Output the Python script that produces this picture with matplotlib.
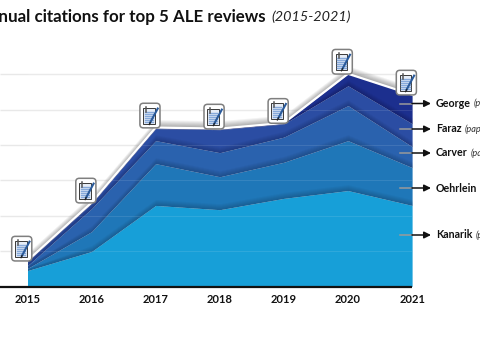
import numpy as np
import matplotlib
matplotlib.use('Agg')
import matplotlib.pyplot as plt
from matplotlib.patches import FancyBboxPatch, Rectangle
from matplotlib.transforms import IdentityTransform

years = [2015, 2016, 2017, 2018, 2019, 2020, 2021]
kanarik = [45, 99, 229, 217, 249, 271, 229]
oehrlein = [6, 56, 118, 93, 102, 141, 107]
carver = [8, 65, 65, 68, 71, 99, 59]
faraz = [11, 14, 34, 65, 37, 56, 65]
george = [3, 3, 3, 3, 3, 34, 82]

names = ['Kanarik', 'Oehrlein', 'Carver', 'Faraz', 'George']
colors = ['#179fd8', '#1f77b8', '#2a62ae', '#2b4da3', '#1c2f8e']
grid_values = [100, 200, 300, 400, 500, 600]

plt.rcParams['font.family'] = ['Lato', 'DejaVu Sans']

W, H = 480, 360
px_year = 64.1
px_value = 35.4 / 100
base_px = 286.5

fig = plt.figure(figsize=(W / 100, H / 100), dpi=100)
# axes fill the figure, the chart is clipped at the edges like the reference
ax = fig.add_axes([0, 0, 1, 1])
ax.set_xlim(2015 - 27.5 / px_year, 2015 + (W - 27.5) / px_year)
ax.set_ylim(-(H - base_px) / px_value, base_px / px_value)
ax.axis('off')

x = np.array(years)
stack = np.cumsum([kanarik, oehrlein, carver, faraz, george], axis=0)
top = stack[-1]

ax.hlines(grid_values, ax.get_xlim()[0], 2021, color='#e8e8e8', lw=1, zorder=1)

# shadow above the top edge
for d in range(1, 9):
    ax.fill_between(x, top, top + d * 2.8, color='black', alpha=0.05, lw=0, zorder=2)

lower = np.zeros(len(years))
for i, name in enumerate(names):
    ax.fill_between(x, lower, stack[i], color=colors[i], lw=0, zorder=3)
    lower = stack[i]

# darker band just above every boundary
for i in range(len(names) - 1):
    for d in range(1, 7):
        ax.fill_between(x, stack[i], np.minimum(stack[i] + d * 2.8, stack[i + 1]),
                        color='black', alpha=0.03, lw=0, zorder=4)

ax.hlines(grid_values, 2015, 2021, color='white', lw=0.8, alpha=0.1, zorder=5)
ax.plot(x, top, color='white', lw=1.6, zorder=6, solid_joinstyle='miter')
ax.hlines(0, ax.get_xlim()[0], 2021, color='#111111', lw=1.6, zorder=7)

for yr in years:
    ax.text(yr, -36, str(yr), ha='center', va='center', fontsize=8, fontweight='bold', color='#111111')


def icon(px, py):
    # px, py is the centre of the note icon in pixels
    t = IdentityTransform()
    ax.add_patch(FancyBboxPatch((px - 8, py - 10.5), 16.5, 21, boxstyle='round,pad=1.8,rounding_size=3.5',
                                fc='white', ec='#7f7f7f', lw=1.1, transform=t, zorder=10))
    ax.add_patch(Rectangle((px - 6.5, py - 8), 11.5, 15.5, fc='#e6edf7', ec='#3a3a3a', lw=0.7,
                           transform=t, zorder=11))
    for k in range(6):
        yy = py - 6.5 + k * 2.1
        ax.plot([px - 5, px + 3.5], [yy, yy], color='#86a9da', lw=1, transform=t, zorder=12)
    ax.plot([px - 3.5, px - 3.5], [py + 4, py + 8.5], color='#555555', lw=1.1, transform=t, zorder=13)
    ax.plot([px + 0.5, px + 8], [py - 7, py + 7], color='#2a5a9a', lw=1.5, transform=t, zorder=13)
    ax.plot([px - 0.5, px + 0.5], [py - 9, py - 7], color='#222222', lw=0.9, transform=t, zorder=13)


for yr, t_val in zip(years, top):
    cx, cy = ax.transData.transform((yr, t_val))
    icon(cx - 6, cy + 12)

# labels with arrows, y is in pixels from the top
label_px = [235, 188, 153, 129, 103.5]
renderer = fig.canvas.get_renderer()
for name, ly in zip(names, label_px):
    yy = H - ly
    t = IdentityTransform()
    ax.plot([400, 412], [yy, yy], color='#9a9a9a', lw=1.1, transform=t, zorder=8)
    ax.annotate('', xy=(431, yy), xytext=(412, yy), xycoords='figure pixels', textcoords='figure pixels',
                arrowprops=dict(arrowstyle='-|>', color='#111111', lw=1.1, shrinkA=0, shrinkB=0, mutation_scale=10),
                zorder=8)
    txt = ax.text(436, yy, name, transform=t, ha='left', va='center', fontsize=7.7,
                  fontweight='bold', color='#111111')
    end = txt.get_window_extent(renderer).x1
    ax.text(end + 3, yy, '(paper)', transform=t, ha='left', va='center', fontsize=6.6,
            fontstyle='italic', color='#333333')

t = IdentityTransform()
ax.text(265.5, H - 17, 'Annual citations for top 5 ALE reviews', transform=t, ha='right', va='center',
        fontsize=12.2, fontweight='bold', color='#111111')
ax.text(271, H - 17, '(2015-2021)', transform=t, ha='left', va='center', fontsize=10.4,
        fontstyle='italic', color='#222222')

fig.savefig('out.png', dpi=100)
